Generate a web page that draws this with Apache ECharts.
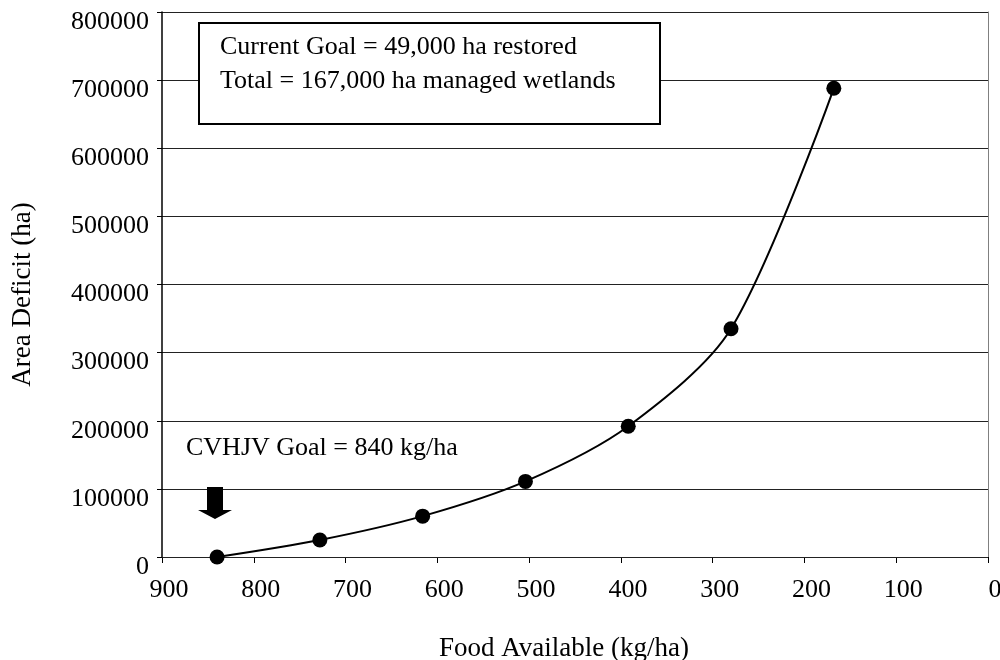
<!DOCTYPE html>
<html>
<head>
<meta charset="utf-8">
<script src="https://cdn.jsdelivr.net/npm/echarts@6/dist/echarts.min.js"></script>
<style>html,body{margin:0;padding:0;background:#fff}#c{width:1000px;height:660px}</style>
</head>
<body>
<div id="c"></div>
<script>
const foodAvailable = [840, 728, 616, 504, 392, 280, 168];
const areaDeficit = [0, 25000, 60000, 111000, 192000, 335000, 688000];
const xTicks = [900, 800, 700, 600, 500, 400, 300, 200, 100, 0];
const yTicks = [0, 100000, 200000, 300000, 400000, 500000, 600000, 700000, 800000];
const goalText = 'CVHJV Goal = 840 kg/ha';
const boxLines = ['Current Goal = 49,000 ha restored', 'Total = 167,000 ha managed wetlands'];

const FONT = "'Liberation Serif', 'Times New Roman', serif";
const chart = echarts.init(document.getElementById('c'), null, {renderer: 'canvas'});
const pts = foodAvailable.map((x, i) => [x, areaDeficit[i]]);

chart.setOption({
  animation: false,
  backgroundColor: '#fff',
  textStyle: {fontFamily: FONT},
  grid: {left: 162, right: 12, top: 12, bottom: 103, containLabel: false, outerBoundsMode: 'none', show: false},
  xAxis: {
    type: 'value', inverse: true, min: 0, max: 900, interval: 100,
    name: 'Food Available (kg/ha)', nameLocation: 'middle', nameGap: 78,
    nameTextStyle: {fontFamily: FONT, fontSize: 27, color: '#000', padding: [0, 22, 0, 0]},
    axisLine: {show: true, onZero: false, lineStyle: {color: '#000', width: 1}},
    axisTick: {show: true, length: 6, lineStyle: {color: '#000'}},
    axisLabel: {fontFamily: FONT, fontSize: 26, color: '#000', margin: 20, padding: [0, 0, 0, 14],
      hideOverlap: false, formatter: v => xTicks.includes(v) ? String(v) : ''},
    splitLine: {show: false}
  },
  yAxis: [{
    type: 'value', position: 'left', min: 0, max: 800000, interval: 100000,
    name: 'Area Deficit (ha)', nameLocation: 'middle', nameGap: 126, nameRotate: 90,
    nameTextStyle: {fontFamily: FONT, fontSize: 27, color: '#000', padding: [0, 20, 0, 0]},
    axisLine: {show: true, onZero: false, lineStyle: {color: '#000', width: 1.5}},
    axisTick: {show: true, length: 5, lineStyle: {color: '#000'}},
    axisLabel: {fontFamily: FONT, fontSize: 26, color: '#000', margin: 13,
      verticalAlign: 'top', lineHeight: 20, hideOverlap: false,
      formatter: v => yTicks.includes(v) ? String(v) : ''},
    splitLine: {show: true, lineStyle: {color: '#222', width: 1}},
    z: 3
  }, {
    type: 'value', position: 'right', min: 0, max: 800000, interval: 100000,
    axisLine: {show: true, onZero: false, lineStyle: {color: '#808080', width: 1}},
    axisTick: {show: false}, axisLabel: {show: false}, splitLine: {show: false}
  }],
  series: [{
    type: 'line', data: pts, smooth: 0.3, yAxisIndex: 0,
    symbol: 'circle', symbolSize: 15,
    itemStyle: {color: '#000'},
    lineStyle: {color: '#000', width: 2},
    z: 5
  }],
  graphic: [
    {type: 'rect', shape: {x: 199, y: 23, width: 461, height: 101}, style: {fill: '#fff', stroke: '#000', lineWidth: 2}, z: 100},
    {type: 'text', left: 220, top: 34, style: {text: boxLines[0], font: "26px " + FONT, fill: '#000'}, z: 101},
    {type: 'text', left: 220, top: 68, style: {text: boxLines[1], font: "26px " + FONT, fill: '#000'}, z: 101},
    {type: 'text', left: 186, top: 435, style: {text: goalText, font: "26px " + FONT, fill: '#000'}, z: 101},
    {type: 'polygon', shape: {points: [[207, 487], [223, 487], [223, 510], [232, 510], [215, 519], [198, 510], [207, 510]]}, style: {fill: '#000'}, z: 101}
  ]
});
</script>
</body>
</html>
